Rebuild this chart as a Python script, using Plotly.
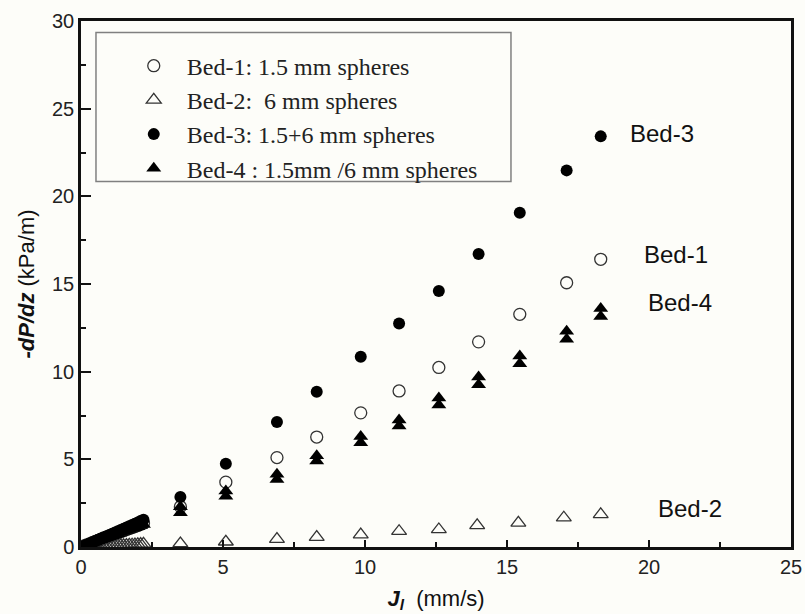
import plotly.graph_objects as go

# ---------------- data ----------------
x_low = [0.1, 0.2, 0.3, 0.4, 0.5, 0.6, 0.7, 0.8, 0.9, 1.0, 1.1,
         1.2, 1.3, 1.4, 1.5, 1.6, 1.7, 1.8, 1.9, 2.0, 2.1, 2.2]
x_main = [3.5, 5.1, 6.9, 8.3, 9.85, 11.2, 12.6, 14.0, 15.45, 17.1, 18.3]

bed1_low = [0.06, 0.12, 0.18, 0.25, 0.31, 0.37, 0.43, 0.49, 0.56, 0.62, 0.68,
            0.74, 0.8, 0.87, 0.93, 0.99, 1.05, 1.11, 1.17, 1.23, 1.3, 1.36]
bed1_main = [2.3, 3.7, 5.1, 6.27, 7.65, 8.9, 10.24, 11.7, 13.27, 15.07, 16.41]

x2_main = [3.5, 5.1, 6.9, 8.3, 9.85, 11.2, 12.6, 13.95, 15.4, 17.0, 18.3]
bed2_low = [0.01, 0.01, 0.02, 0.02, 0.03, 0.03, 0.04, 0.05, 0.05, 0.06, 0.07,
            0.07, 0.08, 0.09, 0.1, 0.11, 0.12, 0.13, 0.14, 0.15, 0.16, 0.18]
bed2_main = [0.2, 0.3, 0.45, 0.56, 0.71, 0.9, 1.0, 1.23, 1.38, 1.67, 1.86]

bed3_low = [0.06, 0.13, 0.2, 0.27, 0.34, 0.41, 0.48, 0.55, 0.62, 0.69, 0.76,
            0.83, 0.9, 0.97, 1.04, 1.11, 1.18, 1.25, 1.32, 1.4, 1.48, 1.56]
bed3_main = [2.85, 4.75, 7.13, 8.85, 10.85, 12.75, 14.6, 16.71, 19.07, 21.48, 23.42]

bed4_low = [0.05, 0.11, 0.17, 0.23, 0.29, 0.35, 0.41, 0.47, 0.53, 0.58, 0.64,
            0.7, 0.76, 0.82, 0.88, 0.94, 1.0, 1.05, 1.1, 1.16, 1.22, 1.28]
bed4_main_a = [1.95, 2.9, 3.85, 4.9, 5.95, 6.9, 8.1, 9.25, 10.45, 11.85, 13.15]
bed4_main_b = [2.3, 3.2, 4.15, 5.2, 6.3, 7.25, 8.5, 9.7, 10.9, 12.3, 13.6]

names = ["Bed-1: 1.5 mm spheres", "Bed-2:  6 mm spheres",
         "Bed-3: 1.5+6 mm spheres", "Bed-4 : 1.5mm /6 mm spheres"]

labels = ["Bed-3", "Bed-1", "Bed-4", "Bed-2"]
label_x = [20.46, 20.95, 21.09, 21.44]
label_y = [23.57, 16.71, 13.93, 2.2]

# ---------------- figure ----------------
fig = go.Figure()
fig.add_trace(go.Scatter(
    x=x_low + x_main, y=bed1_low + bed1_main, mode="markers", name=names[0],
    marker=dict(symbol="circle-open", size=12, color="#333333", line=dict(width=1.3))))
fig.add_trace(go.Scatter(
    x=x_low + x2_main, y=bed2_low + bed2_main, mode="markers", name=names[1],
    marker=dict(symbol="triangle-up-open", size=13, color="#333333", line=dict(width=1.3))))
fig.add_trace(go.Scatter(
    x=x_low + x_main, y=bed3_low + bed3_main, mode="markers", name=names[2],
    marker=dict(symbol="circle", size=12, color="#000000")))
fig.add_trace(go.Scatter(
    x=x_low + x_main + x_main, y=bed4_low + bed4_main_a + bed4_main_b,
    mode="markers", name=names[3],
    marker=dict(symbol="triangle-up", size=13, color="#000000")))

for t, xx, yy in zip(labels, label_x, label_y):
    fig.add_annotation(x=xx, y=yy, text=t, showarrow=False,
                       font=dict(family="Arial, Liberation Sans", size=24, color="#111111"))

# legend frame
fig.add_shape(type="rect", xref="paper", yref="paper",
              x0=0.0211, x1=0.6056, y0=0.6949, y1=0.978,
              line=dict(color="#808080", width=1.5), fillcolor="rgba(0,0,0,0)", layer="below")

axis_common = dict(showgrid=False, zeroline=False, showline=True, linecolor="#111111",
                   linewidth=2.5, mirror=True, ticks="inside", tickwidth=2,
                   tickcolor="#111111", automargin=False,
                   tickfont=dict(family="Arial, Liberation Sans", size=20, color="#222222"))

fig.update_layout(
    width=805, height=614,
    margin=dict(l=81, r=14, t=21, b=67),
    paper_bgcolor="#fdfdf9", plot_bgcolor="#fdfdf9",
    showlegend=True,
    legend=dict(x=0.056, y=0.957, xanchor="left", yanchor="top",
                bgcolor="rgba(0,0,0,0)", borderwidth=0, tracegroupgap=0,
                font=dict(family="Liberation Serif, Times New Roman", size=24, color="#222222"),
                itemwidth=56),
    xaxis=dict(range=[0, 25], tickvals=[0, 5, 10, 15, 20, 25], ticklen=7,
               minor=dict(ticks="inside", ticklen=5, tickwidth=2, tickcolor="#111111",
                          tickvals=[2.5, 7.5, 12.5, 17.5, 22.5]),
               title=dict(text="<b><i>J</i></b><sub><b><i>l</i></b></sub>  (mm/s)",
                          font=dict(family="Arial, Liberation Sans", size=22, color="#111111"),
                          standoff=14),
               **axis_common),
    yaxis=dict(range=[0, 30], tickvals=[0, 5, 10, 15, 20, 25, 30], ticklen=10,
               minor=dict(ticks="inside", ticklen=5, tickwidth=2, tickcolor="#111111",
                          tickvals=[2.5, 7.5, 12.5, 17.5, 22.5, 27.5]),
               title=dict(text="<b><i>-dP/dz</i></b> (kPa/m)",
                          font=dict(family="Arial, Liberation Sans", size=22, color="#111111"),
                          standoff=12),
               **axis_common),
)

fig.write_html("out.html")
